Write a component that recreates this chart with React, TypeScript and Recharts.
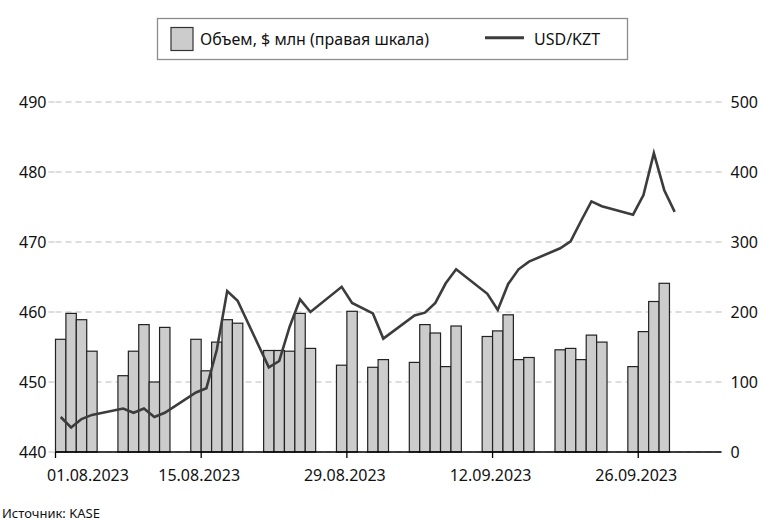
import React from 'react';
import { ComposedChart, Bar, Line, XAxis, YAxis, CartesianGrid } from 'recharts';

// Trading days (weekdays with data)
const tradeDates = [
  '01.08.2023', '02.08.2023', '03.08.2023', '04.08.2023',
  '07.08.2023', '08.08.2023', '09.08.2023', '10.08.2023', '11.08.2023',
  '14.08.2023', '15.08.2023', '16.08.2023', '17.08.2023', '18.08.2023',
  '21.08.2023', '22.08.2023', '23.08.2023', '24.08.2023', '25.08.2023',
  '28.08.2023', '29.08.2023', '31.08.2023', '01.09.2023',
  '04.09.2023', '05.09.2023', '06.09.2023', '07.09.2023', '08.09.2023',
  '11.09.2023', '12.09.2023', '13.09.2023', '14.09.2023', '15.09.2023',
  '18.09.2023', '19.09.2023', '20.09.2023', '21.09.2023', '22.09.2023',
  '25.09.2023', '26.09.2023', '27.09.2023', '28.09.2023', '29.09.2023',
];

// Volume, $ mln (right axis)
const volumeUsdMln: (number | null)[] = [
  161, 198, 189, 144,
  109, 144, 182, 100, 178,
  161, 116, 157, 189, 184,
  145, 145, 144, 198, 148,
  124, 201, 121, 132,
  128, 182, 170, 122, 180,
  165, 173, 196, 132, 135,
  146, 148, 132, 167, 157,
  122, 172, 215, 241, null,
];

// USD/KZT (left axis)
const usdKzt: number[] = [
  445.0, 443.5, 444.7, 445.3,
  446.2, 445.6, 446.2, 445.0, 445.6,
  448.5, 449.1, 454.6, 463.0, 461.6,
  452.1, 453.0, 457.9, 461.8, 460.0,
  463.6, 461.3, 459.8, 456.2,
  459.5, 459.9, 461.3, 464.1, 466.1,
  462.6, 460.3, 464.0, 466.1, 467.2,
  469.1, 470.1, 473.0, 475.8, 475.1,
  473.9, 476.7, 482.7, 477.4, 474.3,
];

const xTickLabels = ['01.08.2023', '15.08.2023', '29.08.2023', '12.09.2023', '26.09.2023'];
const leftTicks = [440, 450, 460, 470, 480, 490];
const rightTicks = [0, 100, 200, 300, 400, 500];

const seriesNames = { volume: 'Объем, $ млн (правая шкала)', rate: 'USD/KZT' };
const sourceText = 'Источник: KASE';

// calendar axis: 01.08.2023 .. 03.10.2023
function buildCalendar(): string[] {
  const out: string[] = [];
  const d = new Date(Date.UTC(2023, 7, 1));
  const end = Date.UTC(2023, 9, 3);
  while (d.getTime() <= end) {
    const dd = String(d.getUTCDate()).padStart(2, '0');
    const mm = String(d.getUTCMonth() + 1).padStart(2, '0');
    out.push(`${dd}.${mm}.${d.getUTCFullYear()}`);
    d.setUTCDate(d.getUTCDate() + 1);
  }
  return out;
}

const calendar = buildCalendar();
const data = calendar.map((date) => {
  const i = tradeDates.indexOf(date);
  return {
    date,
    volume: i >= 0 ? volumeUsdMln[i] : null,
    rate: i >= 0 ? usdKzt[i] : null,
  };
});

const W = 763;
const H = 521;
const PLOT_LEFT = 55.5;
const PLOT_RIGHT = 721.5;
const PLOT_TOP = 102;
const PLOT_BOTTOM = 452;
const BAND = (PLOT_RIGHT - PLOT_LEFT) / calendar.length;

const XTick = (props: any) => {
  const { x, payload } = props;
  const tx = x - BAND / 2;
  let lx = tx - 2;
  if (lx - 41 < 46) lx = 88;
  return (
    <g>
      <line x1={tx} x2={tx} y1={PLOT_BOTTOM} y2={PLOT_BOTTOM + 6} stroke="#000" strokeWidth={1.3} />
      <text x={lx} y={481} textAnchor="middle" fontSize={16} fill="#111">
        {payload.value}
      </text>
    </g>
  );
};

const BarShape = (props: any) => {
  const { x, y, height } = props;
  if (height == null || height <= 0) return null;
  return (
    <rect x={x} y={y} width={BAND} height={height} fill="#cccccc" stroke="#222" strokeWidth={1.2} />
  );
};

export default function App() {
  return (
    <div
      style={{
        position: 'absolute',
        left: 0,
        top: 0,
        width: W,
        height: H,
        background: '#fff',
        fontFamily: '"Noto Sans", sans-serif',
      }}
    >
      <ComposedChart
        width={W}
        height={H}
        data={data}
        margin={{ top: PLOT_TOP, right: 0, bottom: 0, left: 0 }}
        barCategoryGap={0}
        barGap={0}
      >
        <CartesianGrid
          yAxisId="left"
          vertical={false}
          stroke="#bbbbbb"
          strokeDasharray="6 4"
        />
        <XAxis
          dataKey="date"
          ticks={xTickLabels}
          interval={0}
          tick={<XTick />}
          tickLine={false}
          axisLine={{ stroke: '#000', strokeWidth: 1.3 }}
          height={H - PLOT_BOTTOM}
        />
        <YAxis
          yAxisId="left"
          orientation="left"
          width={PLOT_LEFT}
          domain={[440, 490]}
          ticks={leftTicks}
          interval={0}
          axisLine={false}
          tickLine={{ stroke: '#bbbbbb', strokeDasharray: '6 4' }}
          tickSize={7}
          tickMargin={2}
          tick={{ fontSize: 16, fill: '#111' }}
        />
        <YAxis
          yAxisId="right"
          orientation="right"
          width={W - PLOT_RIGHT}
          domain={[0, 500]}
          ticks={rightTicks}
          interval={0}
          axisLine={false}
          tickLine={false}
          tickSize={6}
          tickMargin={3}
          tick={{ fontSize: 16, fill: '#111', textAnchor: 'start' }}
        />
        <Bar
          yAxisId="right"
          dataKey="volume"
          name={seriesNames.volume}
          shape={<BarShape />}
          isAnimationActive={false}
        />
        <Line
          yAxisId="left"
          dataKey="rate"
          name={seriesNames.rate}
          type="linear"
          stroke="#3c3c3c"
          strokeWidth={2.6}
          dot={false}
          activeDot={false}
          connectNulls
          isAnimationActive={false}
        />
      </ComposedChart>
      <svg
        width={W}
        height={H}
        style={{ position: 'absolute', left: 0, top: 0, pointerEvents: 'none' }}
      >
        <rect x={157.5} y={18.5} width={470} height={41} fill="#fff" stroke="#8c8c8c" strokeWidth={1.3} />
        <rect x={171} y={27.5} width={22} height={23} fill="#cccccc" stroke="#333" strokeWidth={1.2} />
        <text x={200} y={44.5} fontSize={16} fill="#111">{seriesNames.volume}</text>
        <line x1={485} x2={524} y1={37.7} y2={37.7} stroke="#3c3c3c" strokeWidth={3} />
        <text x={534} y={44.5} fontSize={16} fill="#111">{seriesNames.rate}</text>
        <text x={2} y={518} fontSize={13} fill="#111">{sourceText}</text>
      </svg>
    </div>
  );
}
